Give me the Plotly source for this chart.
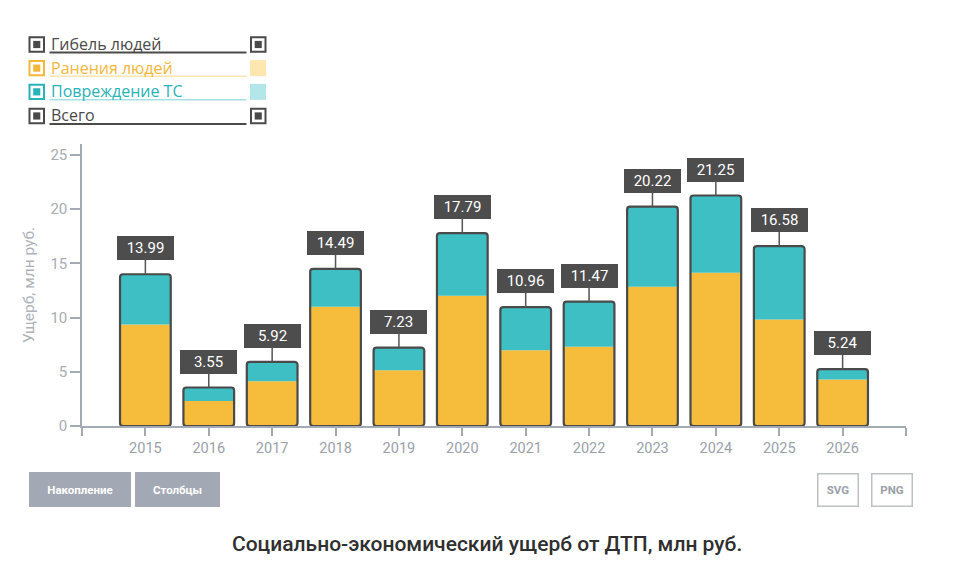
import plotly.graph_objects as go

# ---------------- data ----------------
years = [2015, 2016, 2017, 2018, 2019, 2020, 2021, 2022, 2023, 2024, 2025, 2026]
deaths = [0, 0, 0, 0, 0, 0, 0, 0, 0, 0, 0, 0]                      # Гибель людей
injuries = [9.36, 2.31, 4.13, 10.99, 5.14, 12.00, 6.99, 7.30, 12.84, 14.13, 9.82, 4.28]  # Ранения людей
damage = [4.63, 1.24, 1.79, 3.50, 2.09, 5.79, 3.97, 4.17, 7.38, 7.12, 6.76, 0.96]       # Повреждение ТС
totals = [13.99, 3.55, 5.92, 14.49, 7.23, 17.79, 10.96, 11.47, 20.22, 21.25, 16.58, 5.24]  # Всего
y_ticks = [0, 5, 10, 15, 20, 25]

series_names = ["Гибель людей", "Ранения людей", "Повреждение ТС", "Всего"]
title_text = "Социально-экономический ущерб от ДТП, млн руб."
y_title = "Ущерб, млн руб."
button_labels = ["Накопление", "Столбцы"]
export_labels = ["SVG", "PNG"]

# ---------------- styles ----------------
W, H = 959, 571
L, R, T, B = 82, 906, 144, 425.7
YELLOW = "#f6bd3c"
TEAL = "#3ebfc3"
DARK = "#4a4a4a"
AXIS = "#a3aab4"
TICKTXT = "#9ba1aa"
FONT = "Roboto"


def px(x):
    return (x - L) / (R - L)


def py(y):
    return (B - y) / (B - T)


fig = go.Figure()

fig.add_trace(go.Bar(x=years, y=injuries, base=[0] * len(years), width=0.8,
                     marker=dict(color=YELLOW, line=dict(width=0)), name=series_names[1],
                     showlegend=False))
fig.add_trace(go.Bar(x=years, y=damage, base=injuries, width=0.8,
                     marker=dict(color=TEAL, line=dict(width=0)), name=series_names[2],
                     showlegend=False))
fig.add_trace(go.Bar(x=years, y=deaths,
                     base=[a + b for a, b in zip(injuries, damage)], width=0.8,
                     marker=dict(color=DARK, line=dict(width=0)), name=series_names[0],
                     showlegend=False))
fig.add_trace(go.Bar(x=years, y=totals, base=[0] * len(years), width=0.8,
                     marker=dict(color="rgba(0,0,0,0)", line=dict(color=DARK, width=2.2),
                                 cornerradius=3),
                     name=series_names[3], showlegend=False))

annotations = []
# value labels
for x, t in zip(years, totals):
    annotations.append(dict(
        x=x, y=t, xref="x", yref="y", text=f"{t:.2f}",
        showarrow=True, arrowhead=0, arrowwidth=1.5, arrowcolor="#555555",
        ax=0, ay=-26, bgcolor="#4d4d4d", bordercolor="#4d4d4d", borderpad=2,
        width=51, height=18, font=dict(family=FONT, size=15, color="white"),
    ))

# custom legend
legend_rows = [
    (series_names[0], DARK, DARK, DARK, "icon", 44.6),
    (series_names[1], "#f3b73a", "#fbe6b2", "#fde6b0", "fill", 68.2),
    (series_names[2], "#27b3b8", "#a8e1e4", "#b3e6e9", "fill", 91.9),
    (series_names[3], DARK, DARK, DARK, "icon", 116.0),
]
shapes = []
for name, col, ucol, rcol, rtype, yc in legend_rows:
    shapes.append(dict(type="rect", xref="paper", yref="paper",
                       x0=px(29.5), x1=px(44), y0=py(yc - 7.2), y1=py(yc + 7.2),
                       line=dict(color=col, width=2), fillcolor="white"))
    shapes.append(dict(type="rect", xref="paper", yref="paper",
                       x0=px(33.2), x1=px(40.3), y0=py(yc - 3.6), y1=py(yc + 3.6),
                       line=dict(width=0), fillcolor=col))
    shapes.append(dict(type="line", xref="paper", yref="paper",
                       x0=px(49.5), x1=px(246.5), y0=py(yc + 8), y1=py(yc + 8),
                       line=dict(color=ucol, width=2 if rtype == "icon" else 1.5)))
    if rtype == "icon":
        shapes.append(dict(type="rect", xref="paper", yref="paper",
                           x0=px(251), x1=px(265.5), y0=py(yc - 7.2), y1=py(yc + 7.2),
                           line=dict(color=col, width=2), fillcolor="white"))
        shapes.append(dict(type="rect", xref="paper", yref="paper",
                           x0=px(254.7), x1=px(261.8), y0=py(yc - 3.6), y1=py(yc + 3.6),
                           line=dict(width=0), fillcolor=col))
    else:
        shapes.append(dict(type="rect", xref="paper", yref="paper",
                           x0=px(250), x1=px(266), y0=py(yc - 8), y1=py(yc + 8),
                           line=dict(width=0), fillcolor=rcol))
    annotations.append(dict(x=px(48.5), y=py(yc - 0.5), xref="paper", yref="paper",
                            xanchor="left", yanchor="middle", showarrow=False, text=name,
                            font=dict(family="Open Sans", size=16, color=col)))

# buttons
for label, xc, w in zip(button_labels, [80, 177.5], [96, 79]):
    annotations.append(dict(x=px(xc), y=py(489.5), xref="paper", yref="paper",
                            xanchor="center", yanchor="middle",
                            showarrow=False, text=f"<b>{label}</b>",
                            bgcolor="#a3a9b4", bordercolor="#a3a9b4", borderpad=2,
                            width=w, height=29,
                            font=dict(family=FONT, size=11.5, color="white")))
for label, xc in zip(export_labels, [837.5, 892]):
    annotations.append(dict(x=px(xc), y=py(489.5), xref="paper", yref="paper",
                            xanchor="center", yanchor="middle",
                            showarrow=False, text=f"<b>{label}</b>",
                            bgcolor="white", bordercolor="#bcc1c8", borderwidth=1.5,
                            borderpad=1, width=37, height=29,
                            font=dict(family=FONT, size=11.5, color="#9aa0a8")))

# title
annotations.append(dict(x=px(487), y=py(544), xref="paper", yref="paper", showarrow=False,
                        xanchor="center", yanchor="middle",
                        text=title_text,
                        font=dict(family=FONT, size=21, weight=500, color="#2f2f2f")))

fig.update_layout(
    width=W, height=H, autosize=False,
    margin=dict(l=L, r=W - R, t=T, b=H - B, pad=0),
    barmode="overlay",
    plot_bgcolor="white", paper_bgcolor="white",
    showlegend=False,
    font=dict(family=FONT),
    xaxis=dict(range=[2014, 2027],
               tickvals=[2014] + years + [2027],
               ticktext=[""] + [str(y) for y in years] + [""],
               ticks="outside", ticklen=8, tickwidth=1.5, tickcolor=AXIS,
               showline=True, linecolor=AXIS, linewidth=1.5,
               showgrid=False, zeroline=False,
               tickfont=dict(family=FONT, size=14.5, color=TICKTXT)),
    yaxis=dict(range=[0, 26], tickvals=y_ticks,
               ticks="outside", ticklen=10, tickwidth=1.5, tickcolor=AXIS,
               showline=True, linecolor=AXIS, linewidth=1.5,
               showgrid=False, zeroline=False,
               tickfont=dict(family=FONT, size=15, color="#a7acb4"),
               title=dict(text=y_title, standoff=12,
                          font=dict(family=FONT, size=15.5, color="#adb2ba"))),
    shapes=shapes,
    annotations=annotations,
)

fig.write_html("out.html", config={"displayModeBar": False},
               post_script="document.body.style.margin='0';")
